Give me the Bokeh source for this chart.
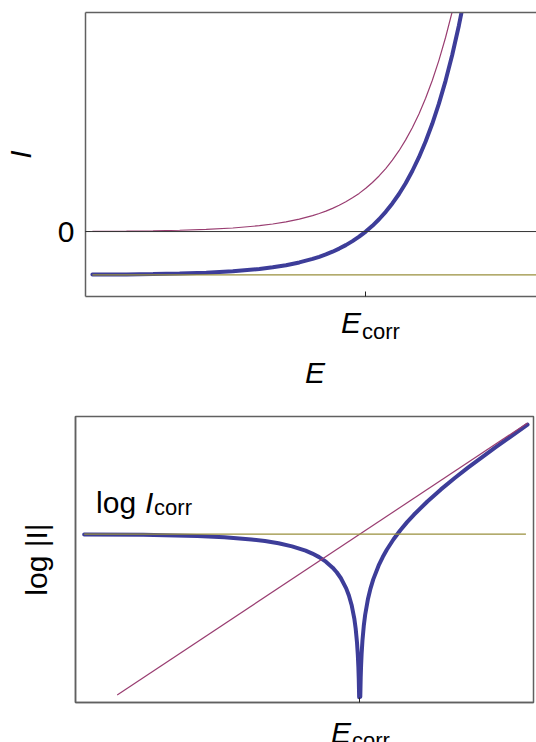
from bokeh.plotting import figure
from bokeh.models import Label, Span, FixedTicker, Range1d, LinearAxis, Div
from bokeh.layouts import column
from bokeh.embed import file_html
from bokeh.resources import INLINE

# ---------------- data: top panel (I vs E), E relative to E_corr, I in units of I_corr
E_lin = [-5.14, -4.5, -4.0, -3.5, -3.0, -2.5, -2.0, -1.75, -1.5, -1.25,
         -1.0, -0.875, -0.75, -0.625, -0.5, -0.375, -0.25, -0.125, 0.0,
         0.125, 0.25, 0.375, 0.5, 0.625, 0.75, 0.875, 1.0,
         1.125, 1.25, 1.375, 1.5, 1.625, 1.75, 1.875, 2.0]
I_anodic = [0.006, 0.011, 0.018, 0.030, 0.050, 0.082, 0.135, 0.174, 0.223, 0.287,
            0.368, 0.417, 0.472, 0.535, 0.607, 0.687, 0.779, 0.882, 1.000,
            1.133, 1.284, 1.455, 1.649, 1.868, 2.117, 2.399, 2.718,
            3.080, 3.490, 3.955, 4.482, 5.078, 5.755, 6.521, 7.389]
I_net = [-0.994, -0.989, -0.982, -0.970, -0.950, -0.918, -0.865, -0.826, -0.777, -0.713,
         -0.632, -0.583, -0.528, -0.465, -0.393, -0.313, -0.221, -0.118, 0.000,
         0.133, 0.284, 0.455, 0.649, 0.868, 1.117, 1.399, 1.718,
         2.080, 2.490, 2.955, 3.482, 4.078, 4.755, 5.521, 6.389]
E_cath = [-5.14, 3.3]
I_cath = [-1.0, -1.0]
E_ticks = [0.0]
I_ticks = [0.0]

# ---------------- data: bottom panel (log|I| vs E)
E_log = [-5.09, -4.0, -3.0, -2.5, -2.0, -1.75, -1.5, -1.25, -1.0,
         -0.875, -0.75, -0.625, -0.5, -0.425, -0.35, -0.25, -0.2, -0.15, -0.1,
         -0.075, -0.05, -0.035, -0.025, -0.018, -0.0107,
         0.0107, 0.018, 0.025, 0.035, 0.05, 0.075, 0.1, 0.15, 0.2, 0.25,
         0.35, 0.425, 0.5, 0.625, 0.75, 0.875, 1.0,
         1.25, 1.5, 1.75, 2.0, 2.5, 3.10]
logI_net = [-0.006, -0.018, -0.051, -0.086, -0.145, -0.191, -0.252, -0.338, -0.459,
            -0.539, -0.639, -0.766, -0.933, -1.061, -1.220, -1.509, -1.708, -1.971, -2.352,
            -2.628, -3.021, -3.370, -3.701, -4.026, -4.543,
            -4.532, -4.008, -3.676, -3.335, -2.971, -2.553, -2.252, -1.821, -1.508, -1.259,
            -0.870, -0.636, -0.433, -0.141, 0.111, 0.336, 0.541,
            0.912, 1.248, 1.559, 1.855, 2.414, 3.054]
E_tafel = [-4.48, 3.10]
logI_tafel = [-4.48, 3.10]
E_flat = [-5.09, 3.07]
logI_flat = [0.0, 0.0]

FONT = "Liberation Sans"
BLUE = "#3d3d99"
PURPLE = "#993d71"
OLIVE = "#998f3d"
FRAME = "#606060"


def style_axis(ax):
    ax.axis_line_color = FRAME
    ax.axis_line_width = 1.5
    ax.major_tick_in = 5
    ax.major_tick_out = 0
    ax.minor_tick_line_color = None
    ax.major_tick_line_color = "#222222"
    ax.major_label_text_font = FONT
    ax.major_label_text_font_size = "30px"
    ax.major_label_text_color = "black"
    ax.axis_label_text_font = FONT
    ax.axis_label_text_font_size = "30px"
    ax.axis_label_text_color = "black"


def sym_html(items, w, h):
    spans = []
    for txt, left, top, size, style in items:
        spans.append(
            f'<span style="position:absolute;left:{left}px;top:{top}px;'
            f"font-family:'{FONT}';font-size:{size}px;font-style:{style};"
            f'line-height:1;color:black;white-space:nowrap;">{txt}</span>')
    return (f'<div style="position:relative;width:{w}px;height:{h}px;overflow:hidden;'
            f'margin:0;padding:0;">' + "".join(spans) + "</div>")


# ---------------- top panel
p1 = figure(width=536, height=300, x_range=Range1d(-5.27, 3.21), y_range=Range1d(-1.50, 5.06),
            output_backend="svg", toolbar_location=None,
            min_border_left=85, min_border_right=0, min_border_top=12, min_border_bottom=4)
p1.grid.visible = False
p1.outline_line_color = None
xb1 = p1.below[0]
yl1 = p1.left[0]
style_axis(xb1)
style_axis(yl1)
xb1.ticker = FixedTicker(ticks=E_ticks)
xb1.major_label_overrides = {0: ""}
xb1.major_label_standoff = 0
yl1.ticker = FixedTicker(ticks=I_ticks)
yl1.axis_label = "I"
yl1.axis_label_text_font_style = "italic"
yl1.major_label_standoff = 11
yl1.axis_label_standoff = 18
top_border = LinearAxis(ticker=FixedTicker(ticks=[]), axis_line_color=FRAME, axis_line_width=1.5,
                        major_tick_out=0, major_tick_in=0, major_label_standoff=0,
                        minor_tick_line_color=None)
p1.add_layout(top_border, "above")

p1.add_layout(Span(location=0, dimension="width", line_color="#333333", line_width=1))
p1.line(E_lin, I_net, line_color=BLUE, line_width=4, line_cap="round")
p1.line(E_lin, I_anodic, line_color=PURPLE, line_width=1.2)
p1.line(E_cath, I_cath, line_color=OLIVE, line_width=1.2)

# labels below the top frame: tick label E_corr and axis title E
div1 = Div(width=536, height=92, margin=0, text=sym_html([
    ("E", 341, 8, 30, "italic"),
    ("corr", 362, 21, 22, "normal"),
    ("E", 305, 58, 30, "italic"),
], 536, 92))

# ---------------- bottom panel
p2 = figure(width=536, height=314, x_range=Range1d(-5.25, 3.21), y_range=Range1d(-4.69, 3.28),
            output_backend="svg", toolbar_location=None,
            min_border_left=75, min_border_right=3, min_border_top=24, min_border_bottom=4)
p2.grid.visible = False
p2.outline_line_color = FRAME
p2.outline_line_width = 1.5
xb2 = p2.below[0]
yl2 = p2.left[0]
style_axis(xb2)
style_axis(yl2)
xb2.ticker = FixedTicker(ticks=E_ticks)
xb2.major_label_overrides = {0: ""}
xb2.major_label_standoff = 0
yl2.ticker = FixedTicker(ticks=[])
yl2.axis_label = "log |I|"
yl2.axis_label_text_font_style = "normal"
yl2.major_label_standoff = 0
yl2.axis_label_standoff = 23

p2.line(E_log, logI_net, line_color=BLUE, line_width=4, line_cap="round", line_join="round")
p2.line(E_tafel, logI_tafel, line_color=PURPLE, line_width=1.2)
p2.line(E_flat, logI_flat, line_color=OLIVE, line_width=1.2)

p2.add_layout(Label(x=-4.87, y=0.66, y_offset=8, text="log", text_font=FONT, text_font_size="30px",
                    text_align="left", text_baseline="alphabetic", text_color="black"))
p2.add_layout(Label(x=-4.87, y=0.66, x_offset=49, y_offset=8, text="I", text_font=FONT,
                    text_font_size="30px", text_font_style="italic", text_align="left",
                    text_baseline="alphabetic", text_color="black"))
p2.add_layout(Label(x=-4.87, y=0.66, x_offset=58, y_offset=3, text="corr", text_font=FONT,
                    text_font_size="22px", text_align="left", text_baseline="alphabetic",
                    text_color="black"))

div2 = Div(width=536, height=36, margin=0, text=sym_html([
    ("E", 331, 12, 30, "italic"),
    ("corr", 352, 24, 22, "normal"),
], 536, 36))

top_block = column(p1, div1, spacing=0)
bottom_block = column(p2, div2, spacing=0)
open("out.html", "w").write(file_html([top_block, bottom_block], INLINE))
